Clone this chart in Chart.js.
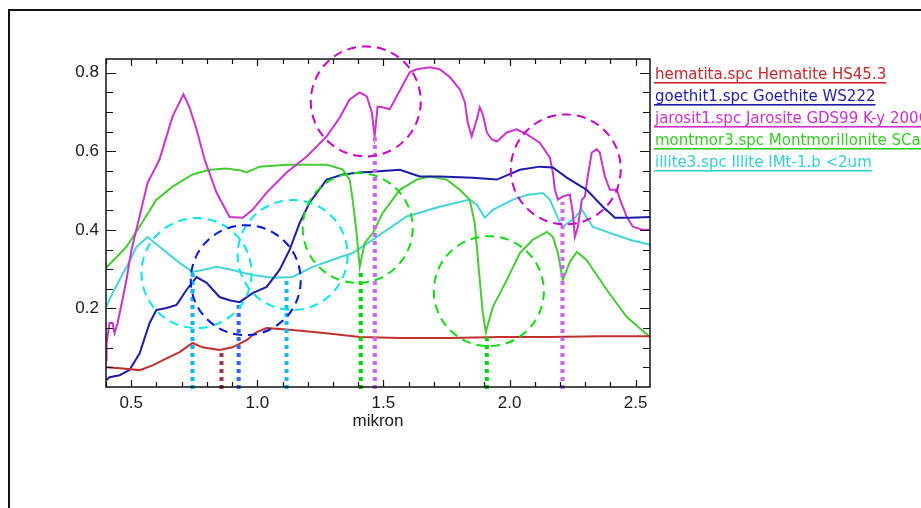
<!DOCTYPE html>
<html>
<head>
<meta charset="utf-8">
<script src="https://cdn.jsdelivr.net/npm/chart.js@4.4.1/dist/chart.umd.min.js"></script>
<style>
  html, body { margin: 0; padding: 0; background: #ffffff; }
  #wrap { position: relative; width: 921px; height: 508px; overflow: hidden; }
</style>
</head>
<body>
<div id="wrap"><canvas id="c" width="921" height="508"></canvas></div>
<script>
// ---------------- DATA (wavelength in micron, reflectance) ----------------
const seriesNames = [
  "hematita.spc Hematite HS45.3",
  "goethit1.spc Goethite WS222",
  "jarosit1.spc Jarosite GDS99 K-y 200C",
  "montmor3.spc Montmorillonite SCa-2.b",
  "illite3.spc Illite IMt-1.b <2um"
];

const xHematite = [0.400,0.454,0.533,0.585,0.640,0.692,0.743,0.783,0.850,0.902,0.957,0.997,1.037,1.140,1.275,1.406,1.565,1.763,1.962,2.160,2.358,2.557];
const yHematite = [0.050,0.048,0.043,0.055,0.073,0.089,0.112,0.101,0.094,0.101,0.119,0.140,0.150,0.145,0.137,0.127,0.125,0.125,0.127,0.127,0.129,0.129];

const xGoethite = [0.400,0.414,0.454,0.493,0.533,0.573,0.600,0.640,0.680,0.719,0.759,0.799,0.850,0.890,0.930,0.981,1.037,1.088,1.128,1.168,1.207,1.275,1.338,1.406,1.457,1.565,1.644,1.723,1.854,1.950,2.041,2.120,2.172,2.227,2.306,2.370,2.418,2.477,2.557];
const yGoethite = [0.017,0.025,0.030,0.043,0.085,0.163,0.196,0.201,0.209,0.247,0.280,0.265,0.229,0.221,0.216,0.239,0.255,0.298,0.349,0.418,0.469,0.528,0.541,0.546,0.548,0.553,0.536,0.536,0.533,0.528,0.553,0.561,0.559,0.533,0.502,0.459,0.431,0.431,0.433];

const xJarosite = [0.400,0.402,0.414,0.426,0.434,0.446,0.465,0.481,0.501,0.565,0.612,0.664,0.707,0.731,0.759,0.791,0.838,0.890,0.942,0.981,1.037,1.116,1.196,1.275,1.327,1.366,1.406,1.434,1.454,1.465,1.477,1.497,1.525,1.553,1.604,1.632,1.684,1.723,1.763,1.803,1.823,1.834,1.850,1.870,1.882,1.894,1.910,1.930,1.950,1.989,2.029,2.069,2.120,2.160,2.172,2.180,2.192,2.211,2.239,2.251,2.259,2.271,2.287,2.299,2.310,2.326,2.346,2.358,2.378,2.398,2.426,2.438,2.465,2.489,2.529,2.557];
const yJarosite = [0.068,0.112,0.163,0.163,0.137,0.163,0.221,0.273,0.349,0.520,0.579,0.689,0.745,0.712,0.656,0.579,0.495,0.433,0.431,0.451,0.495,0.546,0.587,0.638,0.686,0.732,0.750,0.740,0.699,0.638,0.714,0.712,0.707,0.740,0.801,0.809,0.814,0.809,0.789,0.758,0.725,0.673,0.638,0.681,0.712,0.694,0.648,0.630,0.625,0.648,0.656,0.643,0.622,0.584,0.546,0.502,0.477,0.485,0.490,0.444,0.382,0.408,0.477,0.485,0.536,0.597,0.605,0.597,0.536,0.502,0.502,0.477,0.433,0.408,0.400,0.400];

const xMontmor = [0.400,0.481,0.533,0.600,0.664,0.743,0.811,0.878,0.930,0.957,1.009,1.116,1.196,1.275,1.338,1.366,1.378,1.386,1.394,1.406,1.426,1.458,1.497,1.565,1.632,1.684,1.751,1.803,1.842,1.862,1.882,1.894,1.906,1.934,1.989,2.041,2.092,2.148,2.172,2.192,2.211,2.239,2.267,2.306,2.386,2.465,2.557];
const yMontmor = [0.303,0.357,0.408,0.477,0.510,0.541,0.553,0.556,0.552,0.546,0.561,0.566,0.566,0.566,0.554,0.528,0.477,0.434,0.387,0.306,0.367,0.392,0.443,0.502,0.528,0.536,0.528,0.502,0.477,0.418,0.272,0.188,0.140,0.204,0.272,0.341,0.375,0.395,0.382,0.341,0.272,0.318,0.344,0.323,0.247,0.178,0.127];

const xIllite = [0.400,0.426,0.454,0.485,0.521,0.565,0.612,0.692,0.743,0.783,0.838,0.902,0.981,1.061,1.140,1.219,1.299,1.354,1.378,1.458,1.592,1.723,1.842,1.870,1.902,1.934,2.013,2.069,2.132,2.160,2.200,2.211,2.251,2.287,2.330,2.386,2.477,2.557];
const yIllite = [0.204,0.239,0.273,0.310,0.357,0.382,0.357,0.316,0.293,0.298,0.306,0.298,0.285,0.278,0.280,0.306,0.324,0.336,0.341,0.375,0.434,0.459,0.477,0.464,0.431,0.451,0.477,0.489,0.494,0.477,0.418,0.408,0.426,0.451,0.408,0.395,0.375,0.362];

// Absorption-feature markers (micron) and where each dotted marker starts (reflectance)
const markerX   = [0.743, 0.858, 0.926, 1.116, 1.410, 1.466, 1.910, 2.210];
const markerTop = [0.291, 0.088, 0.214, 0.273, 0.298, 0.643, 0.137, 0.471];
// Highlight circles: centres in micron / reflectance
const circleX = [1.430, 2.223, 0.759, 1.140, 0.954, 1.398, 1.918];
const circleY = [0.727, 0.554, 0.290, 0.336, 0.272, 0.405, 0.244];

const xTickLabels = ["0.5","1.0","1.5","2.0","2.5"];
const yTickLabels = ["0.2","0.4","0.6","0.8"];
const xTitle = "mikron";

// ---------------- STYLES ----------------
const lineColors   = ["#c0302c", "#1c1ca6", "#cc33cc", "#44cc33", "#44d6d6"];
const legendColors = ["#c8282a", "#1c1cb0", "#cc30cc", "#33cc22", "#33d0d0"];
const markerColors = ["#00b8ff", "#993366", "#3366ff", "#00c0ff", "#00d400", "#cc66ff", "#00d400", "#cc66ff"];
const circleColors = ["#cc00cc", "#cc00cc", "#00e8f0", "#00e8f0", "#0010ee", "#11dd11", "#11dd11"];
const circleRadius = 55;

function pts(xs, ys) { return xs.map((x, i) => ({ x: x, y: ys[i] })); }
const allX = [xHematite, xGoethite, xJarosite, xMontmor, xIllite];
const allY = [yHematite, yGoethite, yJarosite, yMontmor, yIllite];

const datasets = seriesNames.map((name, i) => ({
  label: name,
  data: pts(allX[i], allY[i]),
  borderColor: lineColors[i],
  backgroundColor: lineColors[i],
  borderWidth: 2,
  pointRadius: 0,
  tension: 0,
  fill: false
}));

const decor = {
  id: 'decor',
  beforeDraw(chart) {
    const ctx = chart.ctx;
    ctx.save();
    ctx.fillStyle = '#ffffff';
    ctx.fillRect(0, 0, chart.width, chart.height);
    ctx.strokeStyle = '#111';
    ctx.lineWidth = 2;
    ctx.beginPath();
    ctx.moveTo(9, chart.height + 2);
    ctx.lineTo(9, 10);
    ctx.lineTo(chart.width + 2, 10);
    ctx.stroke();
    ctx.restore();
  },
  afterDatasetsDraw(chart) {
    const ctx = chart.ctx;
    const xs = chart.scales.x, ys = chart.scales.y;
    const a = chart.chartArea;
    ctx.save();
    // dotted markers
    ctx.lineWidth = 4;
    ctx.setLineDash([4, 4]);
    markerX.forEach((mx, i) => {
      const px = xs.getPixelForValue(mx);
      ctx.strokeStyle = markerColors[i];
      ctx.beginPath();
      ctx.moveTo(px, a.bottom + 2);
      ctx.lineTo(px, ys.getPixelForValue(markerTop[i]));
      ctx.stroke();
    });
    // dashed circles
    ctx.lineWidth = 2;
    ctx.setLineDash([9, 6]);
    circleX.forEach((cx, i) => {
      ctx.strokeStyle = circleColors[i];
      ctx.beginPath();
      ctx.arc(xs.getPixelForValue(cx), ys.getPixelForValue(circleY[i]), circleRadius, 0, Math.PI * 2);
      ctx.stroke();
    });
    ctx.setLineDash([]);
    // plot frame
    ctx.strokeStyle = '#111';
    ctx.lineWidth = 1.5;
    ctx.strokeRect(a.left, a.top, a.right - a.left, a.bottom - a.top);
    // inward tick marks
    ctx.lineWidth = 1.2;
    ctx.beginPath();
    xs.ticks.forEach(t => {
      if (t.value > xs.max - 1e-6 || t.value < xs.min - 1e-6) return;
      const px = Math.round(xs.getPixelForValue(t.value)) + 0.5;
      const major = Math.abs(t.value * 2 - Math.round(t.value * 2)) < 1e-6;
      const len = major ? 7 : 5;
      ctx.moveTo(px, a.bottom); ctx.lineTo(px, a.bottom - len);
      ctx.moveTo(px, a.top); ctx.lineTo(px, a.top + len);
    });
    ys.ticks.forEach(t => {
      if (t.value > ys.max - 1e-6 || t.value < 1e-6) return;
      const py = Math.round(ys.getPixelForValue(t.value)) + 0.5;
      const major = Math.abs(t.value * 5 - Math.round(t.value * 5)) < 1e-6;
      const len = major ? 10 : 7;
      ctx.moveTo(a.left, py); ctx.lineTo(a.left + len, py);
      ctx.moveTo(a.right, py); ctx.lineTo(a.right - len, py);
    });
    ctx.stroke();
    // legend
    ctx.font = '15px "DejaVu Sans", sans-serif';
    ctx.textBaseline = 'alphabetic';
    ctx.textAlign = 'left';
    seriesNames.forEach((name, i) => {
      const bx = 655, by = 79 + i * 22;
      ctx.fillStyle = legendColors[i];
      ctx.fillText(name, bx, by);
      const w = ctx.measureText(name).width;
      ctx.fillRect(bx - 1, by + 3, w + 1, 1.6);
    });
    ctx.restore();
  }
};

new Chart(document.getElementById('c'), {
  type: 'line',
  data: { datasets: datasets },
  options: {
    responsive: false,
    animation: false,
    devicePixelRatio: 1,
    layout: { padding: { left: 6, right: 271, top: 59, bottom: 76 } },
    plugins: { legend: { display: false }, tooltip: { enabled: false } },
    scales: {
      x: {
        type: 'linear',
        min: 0.4,
        max: 2.557,
        border: { display: false },
        grid: { display: false, drawTicks: false },
        afterFit(s) { s.height = 45; },
        ticks: {
          stepSize: 0.1,
          includeBounds: false,
          autoSkip: false,
          maxRotation: 0,
          padding: 6,
          color: '#1a1a1a',
          font: { family: '"Liberation Sans", Arial, sans-serif', size: 17 },
          callback(v) {
            const idx = xTickLabels.indexOf(Number(v).toFixed(1));
            return (idx >= 0 && Math.abs(v * 2 - Math.round(v * 2)) < 1e-6) ? xTickLabels[idx] : '';
          }
        },
        title: {
          display: true,
          text: xTitle,
          color: '#1a1a1a',
          padding: { top: 0, bottom: 0 },
          font: { family: '"Liberation Sans", Arial, sans-serif', size: 17 }
        }
      },
      y: {
        type: 'linear',
        min: 0,
        max: 0.835,
        border: { display: false },
        grid: { display: false, drawTicks: false },
        afterFit(s) { s.width = 100; },
        ticks: {
          stepSize: 0.05,
          includeBounds: false,
          autoSkip: false,
          padding: 7,
          color: '#1a1a1a',
          font: { family: '"Liberation Sans", Arial, sans-serif', size: 17 },
          callback(v) {
            const idx = yTickLabels.indexOf(Number(v).toFixed(1));
            return (idx >= 0 && Math.abs(v * 5 - Math.round(v * 5)) < 1e-6) ? yTickLabels[idx] : '';
          }
        }
      }
    }
  },
  plugins: [decor]
});
</script>
</body>
</html>
